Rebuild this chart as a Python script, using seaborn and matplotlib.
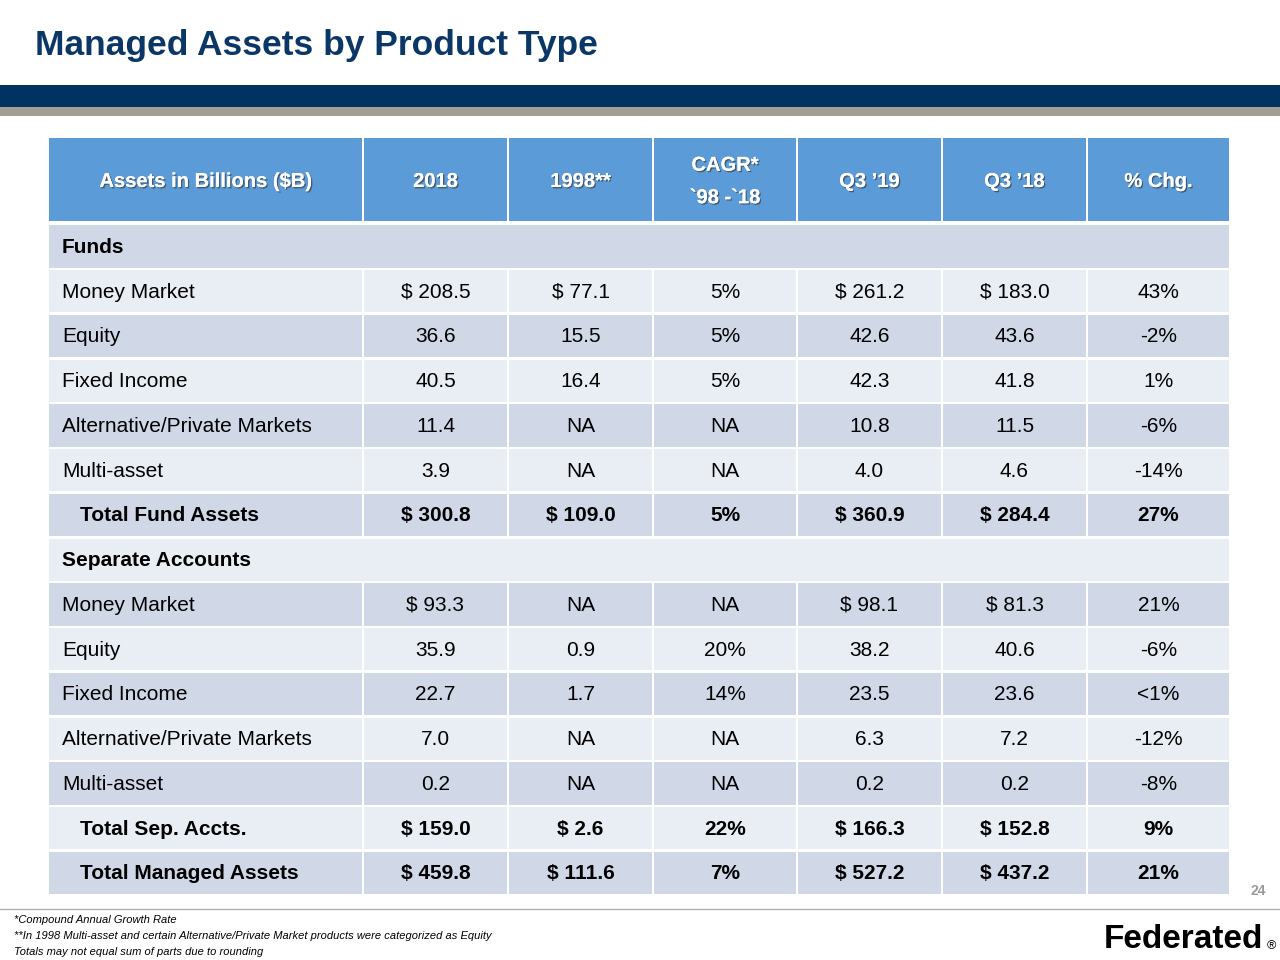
import matplotlib
matplotlib.use("Agg")
import matplotlib.pyplot as plt
import matplotlib.patheffects as pe
from matplotlib.patches import Rectangle
import seaborn as sns

sns.set_theme(style="white")
plt.rcParams["font.family"] = ["Liberation Sans", "DejaVu Sans"]

# Table data
headers = ["Assets in Billions ($B)", "2018", "1998**", "CAGR*\n`98 -`18", "Q3 \u201919", "Q3 \u201918", "% Chg."]
row_labels = ["Funds", "Money Market", "Equity", "Fixed Income", "Alternative/Private Markets", "Multi-asset",
              "Total Fund Assets", "Separate Accounts", "Money Market", "Equity", "Fixed Income",
              "Alternative/Private Markets", "Multi-asset", "Total Sep. Accts.", "Total Managed Assets"]
row_kind = ["section", "item", "item", "item", "item", "item", "total", "section",
            "item", "item", "item", "item", "item", "total", "total"]
col_2018 = ["", "$ 208.5", "36.6", "40.5", "11.4", "3.9", "$ 300.8", "", "$ 93.3", "35.9", "22.7", "7.0", "0.2", "$ 159.0", "$ 459.8"]
col_1998 = ["", "$ 77.1", "15.5", "16.4", "NA", "NA", "$ 109.0", "", "NA", "0.9", "1.7", "NA", "NA", "$ 2.6", "$ 111.6"]
col_cagr = ["", "5%", "5%", "5%", "NA", "NA", "5%", "", "NA", "20%", "14%", "NA", "NA", "22%", "7%"]
col_q319 = ["", "$ 261.2", "42.6", "42.3", "10.8", "4.0", "$ 360.9", "", "$ 98.1", "38.2", "23.5", "6.3", "0.2", "$ 166.3", "$ 527.2"]
col_q318 = ["", "$ 183.0", "43.6", "41.8", "11.5", "4.6", "$ 284.4", "", "$ 81.3", "40.6", "23.6", "7.2", "0.2", "$ 152.8", "$ 437.2"]
col_chg = ["", "43%", "-2%", "1%", "-6%", "-14%", "27%", "", "21%", "-6%", "<1%", "-12%", "-8%", "9%", "21%"]
value_cols = [col_2018, col_1998, col_cagr, col_q319, col_q318, col_chg]

footnotes = ["*Compound Annual Growth Rate",
             "**In 1998 Multi-asset and certain Alternative/Private Market products were categorized as Equity",
             "Totals may not equal sum of parts due to rounding"]

NAVY = "#0b3766"
HEAD = "#5b9bd7"
DARK = "#d0d8e8"
LIGHT = "#e9edf4"

col_edges = [48, 363, 508, 653, 797, 942, 1087, 1230]
head_top, head_bot = 138, 221
row_top, row_h = 224, 44.75
gap = 2.5

fig = plt.figure(figsize=(12.8, 9.6), dpi=100)
ax = fig.add_axes([0, 0, 1, 1])
ax.set_xlim(0, 1280)
ax.set_ylim(960, 0)
ax.axis("off")

ax.text(35, 46, "Managed Assets by Product Type", fontsize=25.5, fontweight="bold", color=NAVY, va="center")
ax.add_patch(Rectangle((0, 85), 1280, 22, color="#003262", lw=0))
ax.add_patch(Rectangle((0, 107), 1280, 9, color="#a39e93", lw=0))

shadow = [pe.withSimplePatchShadow(offset=(1, -1), shadow_rgbFace="#333333", alpha=0.6), pe.Normal()]
for j, h in enumerate(headers):
    x0, x1 = col_edges[j], col_edges[j + 1]
    ax.add_patch(Rectangle((x0 + gap / 2, head_top), x1 - x0 - gap, head_bot - head_top, color=HEAD, lw=0))
    ax.text((x0 + x1) / 2, (head_top + head_bot) / 2 + 2, h, fontsize=14.5, fontweight="bold", color="white",
            ha="center", va="center", linespacing=1.9, path_effects=shadow)

for i, label in enumerate(row_labels):
    y0 = row_top + i * row_h
    yc = y0 + row_h / 2
    color = DARK if i % 2 == 0 else LIGHT
    kind = row_kind[i]
    weight = "normal" if kind == "item" else "bold"
    if kind == "section":
        ax.add_patch(Rectangle((col_edges[0] + gap / 2, y0 + gap / 2), col_edges[-1] - col_edges[0] - gap,
                               row_h - gap, color=color, lw=0))
    else:
        for j in range(len(col_edges) - 1):
            x0, x1 = col_edges[j], col_edges[j + 1]
            ax.add_patch(Rectangle((x0 + gap / 2, y0 + gap / 2), x1 - x0 - gap, row_h - gap, color=color, lw=0))
    indent = 80 if kind == "total" else 62
    ax.text(indent, yc + 1, label, fontsize=15, fontweight=weight, color="black", va="center")
    for j, col in enumerate(value_cols):
        xc = (col_edges[j + 1] + col_edges[j + 2]) / 2
        ax.text(xc, yc + 1, col[i], fontsize=15, fontweight=weight, color="black", ha="center", va="center")

ax.text(1258, 891, "24", fontsize=10, fontweight="bold", color="#9a9a9a", ha="center", va="center")
ax.plot([0, 1280], [909, 909], color="#b0b0b0", lw=1)
for k, note in enumerate(footnotes):
    ax.text(14, 920 + k * 16, note, fontsize=8, style="italic", color="black", va="center")
ax.text(1263, 940, "Federated", fontsize=24, fontweight="bold", color="black", ha="right", va="center")
ax.text(1271, 946, "\u00ae", fontsize=9, color="black", ha="center", va="center")

fig.savefig("out.png", dpi=100)
